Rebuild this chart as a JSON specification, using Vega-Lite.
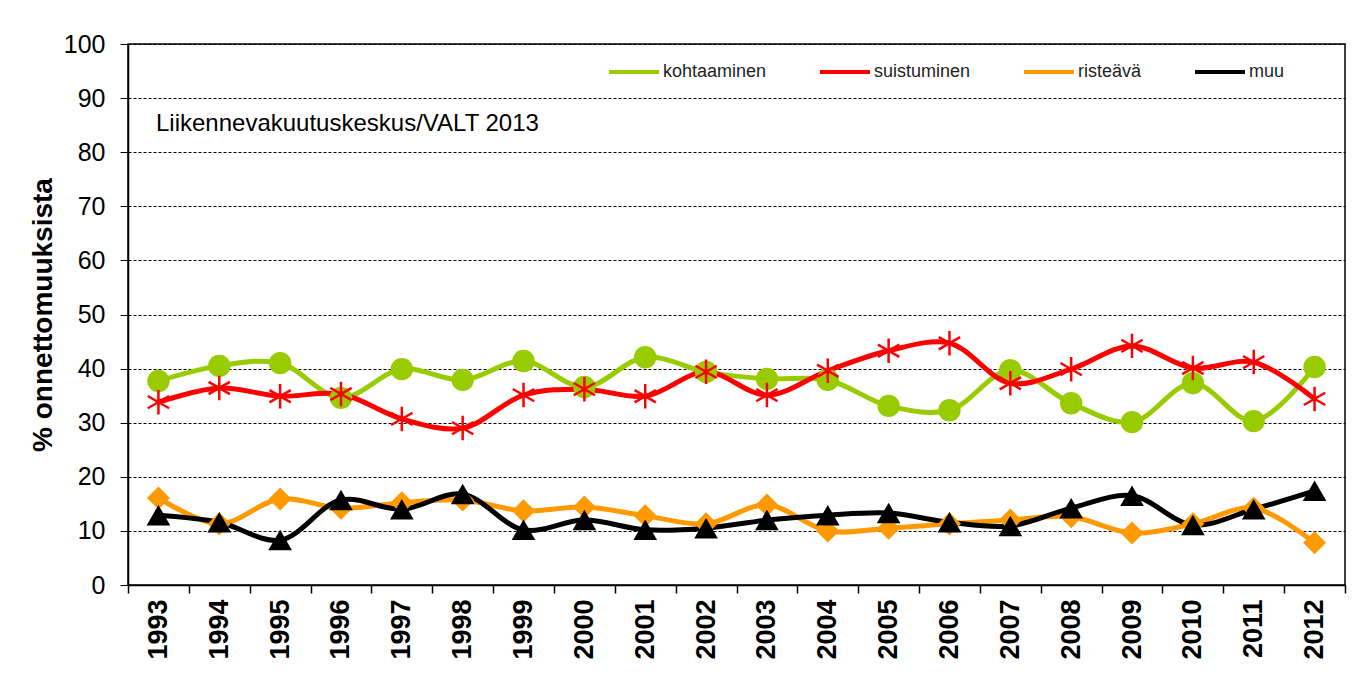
{
  "$schema": "https://vega.github.io/schema/vega-lite/v6.json",
  "width": 1217,
  "height": 541,
  "autosize": {"type": "none"},
  "padding": {"left": 128, "top": 44, "right": 21, "bottom": 101},
  "background": "white",
  "title": {
    "text": "Liikennevakuutuskeskus/VALT 2013",
    "anchor": "start",
    "frame": "group",
    "orient": "top",
    "offset": -104,
    "dx": 28,
    "font": "Liberation Sans",
    "fontSize": 24,
    "fontWeight": "normal",
    "color": "black"
  },
  "config": {
    "view": {"stroke": "black", "strokeWidth": 1.5},
    "font": "Liberation Sans"
  },
  "data": {
    "values": [
      {"year": "1993", "series": "kohtaaminen", "value": 37.7},
      {"year": "1994", "series": "kohtaaminen", "value": 40.5},
      {"year": "1995", "series": "kohtaaminen", "value": 41.0},
      {"year": "1996", "series": "kohtaaminen", "value": 34.6},
      {"year": "1997", "series": "kohtaaminen", "value": 39.9},
      {"year": "1998", "series": "kohtaaminen", "value": 37.9},
      {"year": "1999", "series": "kohtaaminen", "value": 41.4},
      {"year": "2000", "series": "kohtaaminen", "value": 36.6},
      {"year": "2001", "series": "kohtaaminen", "value": 42.1},
      {"year": "2002", "series": "kohtaaminen", "value": 39.4},
      {"year": "2003", "series": "kohtaaminen", "value": 38.1},
      {"year": "2004", "series": "kohtaaminen", "value": 37.9},
      {"year": "2005", "series": "kohtaaminen", "value": 33.1},
      {"year": "2006", "series": "kohtaaminen", "value": 32.3},
      {"year": "2007", "series": "kohtaaminen", "value": 39.7},
      {"year": "2008", "series": "kohtaaminen", "value": 33.6},
      {"year": "2009", "series": "kohtaaminen", "value": 30.1},
      {"year": "2010", "series": "kohtaaminen", "value": 37.3},
      {"year": "2011", "series": "kohtaaminen", "value": 30.3},
      {"year": "2012", "series": "kohtaaminen", "value": 40.3},
      {"year": "1993", "series": "suistuminen", "value": 33.8},
      {"year": "1994", "series": "suistuminen", "value": 36.4},
      {"year": "1995", "series": "suistuminen", "value": 34.9},
      {"year": "1996", "series": "suistuminen", "value": 35.3},
      {"year": "1997", "series": "suistuminen", "value": 30.7},
      {"year": "1998", "series": "suistuminen", "value": 29.0},
      {"year": "1999", "series": "suistuminen", "value": 35.1},
      {"year": "2000", "series": "suistuminen", "value": 36.2},
      {"year": "2001", "series": "suistuminen", "value": 34.9},
      {"year": "2002", "series": "suistuminen", "value": 39.4},
      {"year": "2003", "series": "suistuminen", "value": 35.1},
      {"year": "2004", "series": "suistuminen", "value": 39.6},
      {"year": "2005", "series": "suistuminen", "value": 43.3},
      {"year": "2006", "series": "suistuminen", "value": 44.7},
      {"year": "2007", "series": "suistuminen", "value": 37.3},
      {"year": "2008", "series": "suistuminen", "value": 39.9},
      {"year": "2009", "series": "suistuminen", "value": 44.2},
      {"year": "2010", "series": "suistuminen", "value": 40.1},
      {"year": "2011", "series": "suistuminen", "value": 41.2},
      {"year": "2012", "series": "suistuminen", "value": 34.4},
      {"year": "1993", "series": "risteävä", "value": 16.1},
      {"year": "1994", "series": "risteävä", "value": 11.3},
      {"year": "1995", "series": "risteävä", "value": 15.9},
      {"year": "1996", "series": "risteävä", "value": 14.2},
      {"year": "1997", "series": "risteävä", "value": 15.2},
      {"year": "1998", "series": "risteävä", "value": 15.7},
      {"year": "1999", "series": "risteävä", "value": 13.7},
      {"year": "2000", "series": "risteävä", "value": 14.4},
      {"year": "2001", "series": "risteävä", "value": 12.8},
      {"year": "2002", "series": "risteävä", "value": 11.3},
      {"year": "2003", "series": "risteävä", "value": 14.8},
      {"year": "2004", "series": "risteävä", "value": 10.0},
      {"year": "2005", "series": "risteävä", "value": 10.5},
      {"year": "2006", "series": "risteävä", "value": 11.3},
      {"year": "2007", "series": "risteävä", "value": 12.0},
      {"year": "2008", "series": "risteävä", "value": 12.6},
      {"year": "2009", "series": "risteävä", "value": 9.6},
      {"year": "2010", "series": "risteävä", "value": 11.3},
      {"year": "2011", "series": "risteävä", "value": 14.2},
      {"year": "2012", "series": "risteävä", "value": 7.8},
      {"year": "1993", "series": "muu", "value": 12.9},
      {"year": "1994", "series": "muu", "value": 11.6},
      {"year": "1995", "series": "muu", "value": 8.3},
      {"year": "1996", "series": "muu", "value": 15.7},
      {"year": "1997", "series": "muu", "value": 14.0},
      {"year": "1998", "series": "muu", "value": 16.8},
      {"year": "1999", "series": "muu", "value": 10.2},
      {"year": "2000", "series": "muu", "value": 12.0},
      {"year": "2001", "series": "muu", "value": 10.2},
      {"year": "2002", "series": "muu", "value": 10.5},
      {"year": "2003", "series": "muu", "value": 12.0},
      {"year": "2004", "series": "muu", "value": 12.9},
      {"year": "2005", "series": "muu", "value": 13.3},
      {"year": "2006", "series": "muu", "value": 11.6},
      {"year": "2007", "series": "muu", "value": 10.9},
      {"year": "2008", "series": "muu", "value": 14.2},
      {"year": "2009", "series": "muu", "value": 16.5},
      {"year": "2010", "series": "muu", "value": 11.1},
      {"year": "2011", "series": "muu", "value": 14.0},
      {"year": "2012", "series": "muu", "value": 17.4}
    ]
  },
  "encoding": {
    "x": {
      "field": "year",
      "type": "ordinal",
      "scale": {"paddingInner": 0, "paddingOuter": 0},
      "axis": {
        "title": null,
        "labelAngle": -90,
        "labelAlign": "right",
        "labelBaseline": "middle",
        "labelFont": "Liberation Sans",
        "labelFontSize": 27,
        "labelFontWeight": "bold",
        "labelColor": "black",
        "labelPadding": 6,
        "tickBand": "extent",
        "tickColor": "black",
        "tickSize": 8,
        "tickWidth": 1.5,
        "domainColor": "black",
        "domainWidth": 1.5,
        "grid": false
      }
    },
    "y": {
      "field": "value",
      "type": "quantitative",
      "scale": {"domain": [0, 100], "nice": false},
      "axis": {
        "title": "% onnettomuuksista",
        "titleFont": "Liberation Sans",
        "titleFontSize": 28,
        "titleFontWeight": "bold",
        "titleColor": "black",
        "titlePadding": 6,
        "values": [0, 10, 20, 30, 40, 50, 60, 70, 80, 90, 100],
        "labelFont": "Liberation Sans",
        "labelFontSize": 25,
        "labelColor": "black",
        "labelPadding": 15,
        "tickColor": "black",
        "tickSize": 8,
        "domainColor": "black",
        "domainWidth": 1.5,
        "grid": true,
        "gridColor": "black",
        "gridDash": [3, 2],
        "gridWidth": 1,
        "gridOpacity": 1
      }
    }
  },
  "layer": [
    {
      "mark": {"type": "line", "interpolate": "catmull-rom", "strokeWidth": 5},
      "encoding": {
        "color": {
          "field": "series",
          "type": "nominal",
          "scale": {
            "domain": ["kohtaaminen", "suistuminen", "risteävä", "muu"],
            "range": ["#99CC00", "#FF0000", "#FF9900", "#000000"]
          },
          "legend": {
            "title": null,
            "orient": "none",
            "legendX": 479,
            "legendY": 1,
            "direction": "horizontal",
            "columns": 4,
            "columnPadding": 45,
            "symbolType": "stroke",
            "symbolSize": 2500,
            "symbolStrokeWidth": 4,
            "labelFont": "Liberation Sans",
            "labelFontSize": 18,
            "labelColor": "#222222",
            "labelOffset": 2
          }
        },
        "detail": {"field": "series"}
      }
    },
    {
      "transform": [{"filter": "datum.series !== 'suistuminen'"}],
      "mark": {"type": "point", "filled": true, "opacity": 1},
      "encoding": {
        "color": {"field": "series", "type": "nominal", "legend": null},
        "shape": {
          "field": "series",
          "type": "nominal",
          "legend": null,
          "scale": {
            "domain": ["kohtaaminen", "risteävä", "muu"],
            "range": ["circle", "diamond", "triangle-up"]
          }
        },
        "size": {
          "field": "series",
          "type": "nominal",
          "legend": null,
          "scale": {
            "domain": ["kohtaaminen", "risteävä", "muu"],
            "range": [500, 560, 480]
          }
        }
      }
    },
    {
      "transform": [{"filter": "datum.series === 'suistuminen'"}],
      "mark": {
        "type": "point",
        "filled": false,
        "opacity": 1,
        "shape": "M0,-1V1M-0.87,-0.5L0.87,0.5M-0.87,0.5L0.87,-0.5",
        "size": 600,
        "strokeWidth": 2.5
      },
      "encoding": {
        "color": {"field": "series", "type": "nominal", "legend": null}
      }
    }
  ]
}
